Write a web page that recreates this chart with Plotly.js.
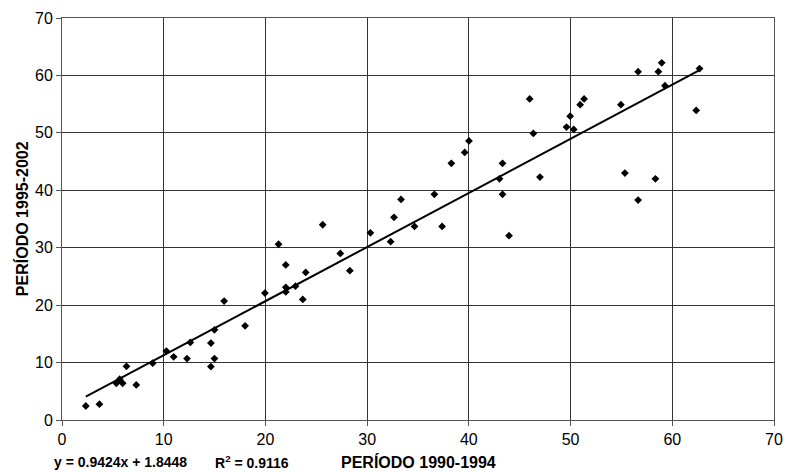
<!DOCTYPE html>
<html>
<head>
<meta charset="utf-8">
<script src="https://cdn.plot.ly/plotly-3.0.1.min.js"></script>
<style>html,body{margin:0;padding:0;background:#fff;}#chart{width:787px;height:472px;}</style>
</head>
<body>
<div id="chart"></div>
<script>
// Data
const xPeriod1990_1994 = [2.34, 3.68, 5.34, 5.67, 5.96, 6.34, 7.30, 8.92, 10.26, 10.98, 12.29, 12.61, 14.64, 14.99, 14.64, 14.99,
  15.94, 18.0, 19.95, 21.29, 22.0, 22.0, 22.0, 22.95, 23.67, 23.96, 25.63, 27.36, 28.3, 30.32,
  32.31, 32.64, 33.33, 34.66, 36.61, 37.37, 38.28, 39.59, 40.01, 43.01, 43.31, 43.31, 43.95, 45.98, 46.34,
  46.99, 49.6, 49.96, 50.31, 50.94, 51.33, 54.95, 55.34, 56.64, 56.64, 58.34, 58.63, 58.96, 59.28, 62.35, 62.68];
const yPeriod1995_2002 = [2.44, 2.75, 6.4, 7.1, 6.4, 9.35, 6.1, 9.9, 12.0, 11.0, 10.7, 13.5, 13.4, 10.7, 9.3, 15.7,
  20.7, 16.4, 22.1, 30.6, 27.0, 23.1, 22.3, 23.3, 21.0, 25.7, 34.0, 29.0, 26.0, 32.6,
  31.05, 35.3, 38.4, 33.7, 39.3, 33.7, 44.7, 46.6, 48.6, 42.0, 44.7, 39.3, 32.1, 55.9, 49.9,
  42.3, 51.0, 52.9, 50.6, 54.9, 55.9, 54.9, 43.0, 60.65, 38.3, 42.0, 60.65, 62.2, 58.2, 53.9, 61.2];
const trendSlope = 0.9424;
const trendIntercept = 1.8448;
const rSquared = 0.9116;
const tickValues = [0, 10, 20, 30, 40, 50, 60, 70];

const xMin = Math.min(...xPeriod1990_1994);
const xMax = Math.max(...xPeriod1990_1994);
const trendX = [xMin, xMax];
const trendY = trendX.map(v => trendSlope * v + trendIntercept);

const font = 'Liberation Sans, Arial, sans-serif';

const data = [
  {x: xPeriod1990_1994, y: yPeriod1995_2002, type: 'scatter', mode: 'markers',
   marker: {symbol: 'diamond', size: 6, color: '#000'}, hoverinfo: 'x+y'},
  {x: trendX, y: trendY, type: 'scatter', mode: 'lines',
   line: {color: '#000', width: 2}}
];

const layout = {
  width: 787, height: 472,
  margin: {l: 62, r: 13, t: 18, b: 52},
  paper_bgcolor: '#fff', plot_bgcolor: '#fff',
  showlegend: false,
  font: {family: font, size: 16, color: '#000'},
  xaxis: {range: [0, 70], tickvals: tickValues, showgrid: true, gridcolor: '#333', gridwidth: 1,
    zeroline: false, showline: true, linecolor: '#555', linewidth: 1, mirror: true,
    ticks: 'outside', ticklen: 5, tickcolor: '#555', tickfont: {size: 16}, fixedrange: true},
  yaxis: {range: [0, 70], tickvals: tickValues, showgrid: true, gridcolor: '#333', gridwidth: 1,
    zeroline: false, showline: true, linecolor: '#555', linewidth: 1, mirror: true,
    ticks: 'outside', ticklen: 5, tickcolor: '#555', tickfont: {size: 16}, fixedrange: true},
  annotations: [
    {text: '<b>PERÍODO 1990-1994</b>', xref: 'paper', yref: 'paper', x: 0.5, y: -0.105,
     xanchor: 'center', yanchor: 'middle', showarrow: false, font: {size: 16}},
    {text: '<b>y = ' + trendSlope + 'x + ' + trendIntercept + '</b>', xref: 'paper', yref: 'paper',
     x: -0.0145, y: -0.105, xanchor: 'left', yanchor: 'middle', showarrow: false, font: {size: 14}},
    {text: '<b>R<sup>2</sup> = ' + rSquared + '</b>', xref: 'paper', yref: 'paper',
     x: 0.212, y: -0.105, xanchor: 'left', yanchor: 'middle', showarrow: false, font: {size: 14}},
    {text: '<b>PERÍODO 1995-2002</b>', xref: 'paper', yref: 'paper', x: -0.056, y: 0.5,
     xanchor: 'center', yanchor: 'middle', textangle: -90, showarrow: false, font: {size: 16}}
  ]
};

Plotly.newPlot('chart', data, layout, {displayModeBar: false, staticPlot: true});
</script>
</body>
</html>
